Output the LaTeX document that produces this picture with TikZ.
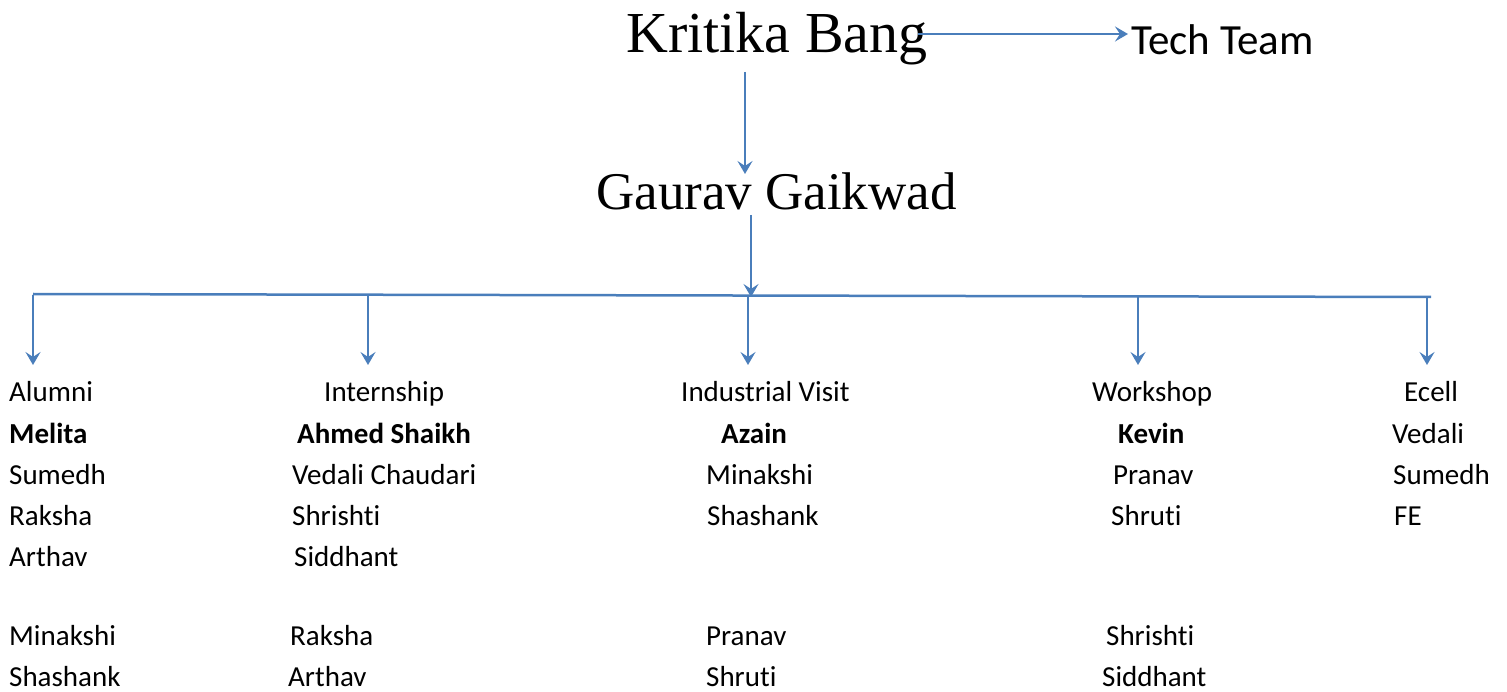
\documentclass[tikz,border=0pt]{standalone}
\usepackage{fontspec}
\setmainfont{Carlito}[Ligatures=NoCommon]
\newfontfamily\titlefont{Liberation Serif}
\usetikzlibrary{arrows.meta}
\definecolor{linkblue}{HTML}{4A7EBB}
\tikzset{
  lbl/.style={anchor=base west, inner sep=0pt, font=\fontsize{29}{29}\selectfont},
  boldlbl/.style={lbl, font=\fontsize{29}{29}\selectfont\bfseries},
  titlelbl/.style={anchor=base west, inner sep=0pt},
  conn/.style={draw=linkblue, line width=2.5pt},
  arr/.style={conn, -{Stealth[length=13pt, width=15pt, inset=5pt]}}
}
\begin{document}
\begin{tikzpicture}[x=1pt, y=-1pt]
\useasboundingbox (0,0) rectangle (1507,692);
% titles
\node[titlelbl, font=\titlefont\fontsize{58}{58}\selectfont] (kb) at (626,53) {Kritika Bang};
\node[titlelbl, font=\fontsize{43}{43}\selectfont] (tt) at (1131,55) {Tech Team};
\node[titlelbl, font=\titlefont\fontsize{53}{53}\selectfont] (gg) at (596,210) {Gaurav Gaikwad};
% connector points
\coordinate (kbR) at (918,34);
\coordinate (ttL) at (1128,34);
\coordinate (kbB) at (745,72);
\coordinate (ggT) at (745,174);
\coordinate (ggB) at (751,215);
\coordinate (busM) at (751,297);
\coordinate (busL) at (33,294);
\coordinate (busR) at (1431,297);
\coordinate (d1) at (33,295); \coordinate (e1) at (33,365);
\coordinate (d2) at (368,295); \coordinate (e2) at (368,365);
\coordinate (d3) at (748,296); \coordinate (e3) at (748,365);
\coordinate (d4) at (1138,297); \coordinate (e4) at (1138,365);
\coordinate (d5) at (1427,297); \coordinate (e5) at (1427,365);
\draw[arr] (kbR) -- (ttL);
\draw[arr] (kbB) -- (ggT);
\draw[arr] (ggB) -- (busM);
\draw[conn] (busL) -- (busR);
\draw[arr] (d1) -- (e1);
\draw[arr] (d2) -- (e2);
\draw[arr] (d3) -- (e3);
\draw[arr] (d4) -- (e4);
\draw[arr] (d5) -- (e5);
% column 1
\node[lbl] (c1h) at (9,402) {Alumni};
\node[boldlbl] (c1a) at (9,443) {Melita};
\node[lbl] (c1b) at (9,484) {Sumedh};
\node[lbl] (c1c) at (9,525) {Raksha};
\node[lbl] (c1d) at (9,566) {Arthav};
\node[lbl] (c1e) at (9,645) {Minakshi};
\node[lbl] (c1f) at (9,686) {Shashank};
% column 2
\node[lbl] (c2h) at (324,402) {Internship};
\node[boldlbl] (c2a) at (297,443) {Ahmed Shaikh};
\node[lbl] (c2b) at (292,484) {Vedali Chaudari};
\node[lbl] (c2c) at (292,525) {Shrishti};
\node[lbl] (c2d) at (294,566) {Siddhant};
\node[lbl] (c2e) at (290,645) {Raksha};
\node[lbl] (c2f) at (288,686) {Arthav};
% column 3
\node[lbl] (c3h) at (681,402) {Industrial Visit};
\node[boldlbl] (c3a) at (721,443) {Azain};
\node[lbl] (c3b) at (706,484) {Minakshi};
\node[lbl] (c3c) at (707,525) {Shashank};
\node[lbl] (c3e) at (706,645) {Pranav};
\node[lbl] (c3f) at (706,686) {Shruti};
% column 4
\node[lbl] (c4h) at (1092,402) {Workshop};
\node[boldlbl] (c4a) at (1118,443) {Kevin};
\node[lbl] (c4b) at (1113,484) {Pranav};
\node[lbl] (c4c) at (1111,525) {Shruti};
\node[lbl] (c4e) at (1106,645) {Shrishti};
\node[lbl] (c4f) at (1102,686) {Siddhant};
% column 5
\node[lbl] (c5h) at (1404,402) {Ecell};
\node[lbl] (c5a) at (1392,443) {Vedali};
\node[lbl] (c5b) at (1393,484) {Sumedh};
\node[lbl] (c5c) at (1394,525) {FE};
\end{tikzpicture}
\end{document}
